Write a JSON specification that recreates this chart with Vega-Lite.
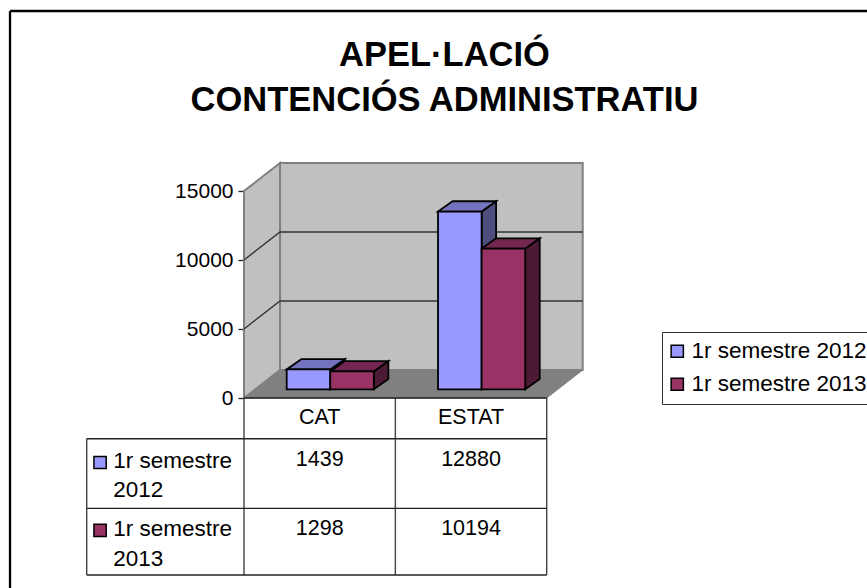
{
"$schema":"https://vega.github.io/schema/vega-lite/v6.json",
"width":867,"height":588,"padding":0,"autosize":{"type":"none"},"background":"white",
"title":{"text":["APEL·LACIÓ","CONTENCIÓS ADMINISTRATIU"],"font":"Liberation Sans","fontSize":34.5,"fontWeight":"bold","color":"black","anchor":"middle","baseline":"alphabetic","lineHeight":45,"dx":11,"dy":145,"offset":0},
"config":{"view":{"stroke":null},"font":"Liberation Sans"},
"data":{"values":[
{"category":"CAT","series":"1r semestre 2012","value":1439},
{"category":"CAT","series":"1r semestre 2013","value":1298},
{"category":"ESTAT","series":"1r semestre 2012","value":12880},
{"category":"ESTAT","series":"1r semestre 2013","value":10194}
]},
"transform":[
{"calculate":"datum.category==='CAT'?0:1","as":"ci"},
{"calculate":"datum.series==='1r semestre 2012'?0:1","as":"si"},
{"calculate":"datum.ci+0.282+datum.si*0.288","as":"x0"},
{"calculate":"datum.x0+0.288","as":"x1"},
{"calculate":"datum.value+630","as":"top"},
{"calculate":"630","as":"base"}
],
"resolve":{"scale":{"color":"independent"}},
"layer":[
{"data":{"values":[{"left":0.2379,"right":2.2379,"low":2029,"high":17029}]},
 "transform":[],
 "mark":{"type":"rect","fill":"#C0C0C0","stroke":"#808080","strokeWidth":2},
 "encoding":{
  "x":{"field":"left","type":"quantitative","axis":null,"scale":{"domain":[-1.6122,4.1163],"nice":false,"zero":false}},
  "x2":{"field":"right"},
  "y":{"field":"low","type":"quantitative","scale":{"domain":[-13768.1,28840.6],"nice":false,"zero":false},
   "axis":{"orient":"left","offset":-244,"values":[0,5000,10000,15000],"title":null,"domain":false,"grid":false,"ticks":true,"tickSize":6,"tickColor":"#222222","tickWidth":1.3,"labelFont":"Liberation Sans","labelFontSize":21,"labelColor":"black","labelPadding":5,"format":"d"}},
  "y2":{"field":"high"}}},
{"data":{"values":[{"x":0,"low":0,"high":15000},{"x":0.2379,"low":2029,"high":17029}]},
 "transform":[],
 "mark":{"type":"area","fill":"#C0C0C0","stroke":"#808080","strokeWidth":2},
 "encoding":{"x":{"field":"x","type":"quantitative","axis":null},"y":{"field":"low","type":"quantitative"},"y2":{"field":"high"}}},
{"data":{"values":[{"y":0,"x":0,"x2":2},{"y":2029,"x":0.2379,"x2":2.2379}]},
 "transform":[],
 "mark":{"type":"area","orient":"horizontal","fill":"#808080","stroke":"#808080","strokeWidth":1},
 "encoding":{"y":{"field":"y","type":"quantitative"},"x":{"field":"x","type":"quantitative","axis":null},"x2":{"field":"x2"}}},
{"data":{"values":[
 {"level":5000,"x":0,"y":5000},{"level":5000,"x":0.2379,"y":7029},{"level":5000,"x":2.2379,"y":7029},
 {"level":10000,"x":0,"y":10000},{"level":10000,"x":0.2379,"y":12029},{"level":10000,"x":2.2379,"y":12029}]},
 "transform":[],
 "mark":{"type":"line","color":"#333333","strokeWidth":1.4},
 "encoding":{"x":{"field":"x","type":"quantitative","axis":null},"y":{"field":"y","type":"quantitative"},"detail":{"field":"level"}}},
{"transform":[
 {"calculate":"[0,1]","as":"k"},{"flatten":["k"]},
 {"calculate":"datum.x1+datum.k*0.0958","as":"sx"},
 {"calculate":"630+datum.k*746","as":"low"},
 {"calculate":"datum.top+datum.k*746","as":"high"}],
 "mark":{"type":"area","stroke":"black","strokeWidth":1.8,"opacity":1},
 "encoding":{"x":{"field":"sx","type":"quantitative","axis":null},"y":{"field":"low","type":"quantitative"},"y2":{"field":"high"},
  "color":{"field":"series","type":"nominal","legend":null,"scale":{"domain":["1r semestre 2012","1r semestre 2013"],"range":["#4D4D80","#4D1A33"]}},
  "detail":{"field":"category"}}},
{"transform":[
 {"calculate":"[0,1]","as":"k"},{"flatten":["k"]},
 {"calculate":"datum.x0+datum.k*0.0958","as":"tx0"},
 {"calculate":"datum.x1+datum.k*0.0958","as":"tx1"},
 {"calculate":"datum.top+datum.k*746","as":"ty"}],
 "mark":{"type":"area","orient":"horizontal","stroke":"black","strokeWidth":1.8,"opacity":1},
 "encoding":{"y":{"field":"ty","type":"quantitative"},"x":{"field":"tx0","type":"quantitative","axis":null},"x2":{"field":"tx1"},
  "color":{"field":"series","type":"nominal","legend":null,"scale":{"domain":["1r semestre 2012","1r semestre 2013"],"range":["#7373BF","#732650"]}},
  "detail":{"field":"category"}}},
{"mark":{"type":"rect","stroke":"black","strokeWidth":1.8,"opacity":1},
 "encoding":{"x":{"field":"x0","type":"quantitative","axis":null},"x2":{"field":"x1"},"y":{"field":"base","type":"quantitative"},"y2":{"field":"top"},
  "color":{"field":"series","type":"nominal","scale":{"domain":["1r semestre 2012","1r semestre 2013"],"range":["#9999FF","#993366"]},
   "legend":{"title":null,"orient":"none","legendX":662,"legendY":332,"padding":8,"strokeColor":"#333333","fillColor":"white","symbolType":"square","symbolSize":150,"symbolStrokeColor":"black","symbolStrokeWidth":1.5,"labelFont":"Liberation Sans","labelFontSize":22.5,"labelColor":"black","labelLimit":0,"labelOffset":3,"rowPadding":10,"symbolOffset":-4}}}},
{"data":{"values":[
 {"x":-1.0393,"y":-2950,"y2":-12825},{"x":0,"y":0,"y2":-12825},{"x":1,"y":0,"y2":-12825},{"x":2,"y":0,"y2":-12825}]},
 "transform":[],
 "mark":{"type":"rule","color":"#444444","strokeWidth":1.4},
 "encoding":{"x":{"field":"x","type":"quantitative","axis":null},"y":{"field":"y","type":"quantitative"},"y2":{"field":"y2"}}},
{"data":{"values":[
 {"x":0,"x2":2,"y":0},{"x":-1.0393,"x2":2,"y":-2950},{"x":-1.0393,"x2":2,"y":-8000},{"x":-1.0393,"x2":2,"y":-12825}]},
 "transform":[],
 "mark":{"type":"rule","color":"#222222","strokeWidth":1.4},
 "encoding":{"x":{"field":"x","type":"quantitative","axis":null},"x2":{"field":"x2"},"y":{"field":"y","type":"quantitative"}}},
{"transform":[
 {"calculate":"datum.ci+0.5","as":"tx"},
 {"calculate":"datum.si===0?-4928:-9906","as":"ty"}],
 "mark":{"type":"text","font":"Liberation Sans","fontSize":21.5,"color":"black","align":"center","baseline":"alphabetic"},
 "encoding":{"x":{"field":"tx","type":"quantitative","axis":null},"y":{"field":"ty","type":"quantitative"},"text":{"field":"value","type":"quantitative","format":"d"}}},
{"transform":[
 {"filter":"datum.si===0"},
 {"calculate":"datum.ci+0.5","as":"tx"},
 {"calculate":"-1884","as":"ty"}],
 "mark":{"type":"text","font":"Liberation Sans","fontSize":21.5,"color":"black","align":"center","baseline":"alphabetic"},
 "encoding":{"x":{"field":"tx","type":"quantitative","axis":null},"y":{"field":"ty","type":"quantitative"},"text":{"field":"category"}}},
{"transform":[
 {"filter":"datum.ci===0"},
 {"calculate":"-0.8635","as":"tx"},
 {"calculate":"datum.si===0?-5072:-10000","as":"ty"},
 {"calculate":"replace(datum.series,' 201','\\n201')","as":"label"}],
 "mark":{"type":"text","font":"Liberation Sans","fontSize":22.5,"color":"black","align":"left","baseline":"alphabetic","lineBreak":"\n","lineHeight":29.5},
 "encoding":{"x":{"field":"tx","type":"quantitative","axis":null},"y":{"field":"ty","type":"quantitative"},"text":{"field":"label"}}},
{"transform":[
 {"filter":"datum.ci===0"},
 {"calculate":"-0.951","as":"tx"},
 {"calculate":"datum.si===0?-4674:-9601","as":"ty"}],
 "mark":{"type":"point","shape":"square","filled":true,"size":150,"stroke":"black","strokeWidth":1.5,"opacity":1},
 "encoding":{"x":{"field":"tx","type":"quantitative","axis":null},"y":{"field":"ty","type":"quantitative"},
  "color":{"field":"series","type":"nominal","legend":null,"scale":{"domain":["1r semestre 2012","1r semestre 2013"],"range":["#9999FF","#993366"]}}}},
{"data":{"values":[{"x":-1.546,"y":28043,"y2":-13768}]},
 "transform":[],
 "mark":{"type":"rule","color":"black","strokeWidth":2.3},
 "encoding":{"x":{"field":"x","type":"quantitative","axis":null},"y":{"field":"y","type":"quantitative"},"y2":{"field":"y2"}}},
{"data":{"values":[{"x":-1.546,"x2":4.1163,"y":28043}]},
 "transform":[],
 "mark":{"type":"rule","color":"black","strokeWidth":2.3},
 "encoding":{"x":{"field":"x","type":"quantitative","axis":null},"x2":{"field":"x2"},"y":{"field":"y","type":"quantitative"}}}
]
}
